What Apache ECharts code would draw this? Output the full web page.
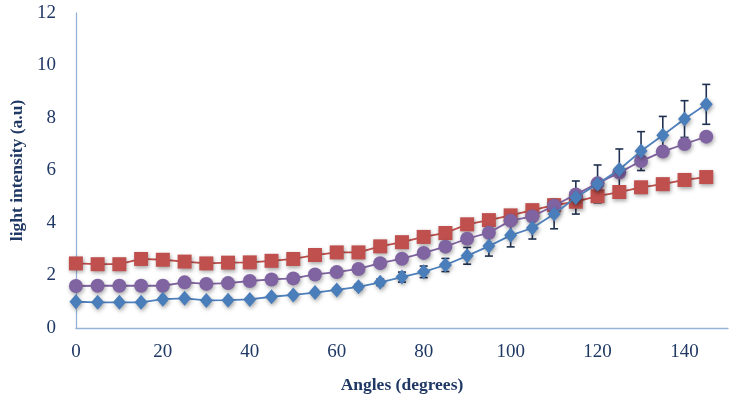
<!DOCTYPE html>
<html>
<head>
<meta charset="utf-8">
<script src="https://cdn.jsdelivr.net/npm/echarts@6/dist/echarts.min.js"></script>
<style>html,body{margin:0;padding:0;background:#fff;}#c{width:734px;height:400px;}</style>
</head>
<body>
<div id="c"></div>
<script>
var angles = [0,5,10,15,20,25,30,35,40,45,50,55,60,65,70,75,80,85,90,95,100,105,110,115,120,125,130,135,140,145];
var blueValues = [1.00,0.98,0.98,0.98,1.10,1.13,1.05,1.06,1.09,1.19,1.26,1.35,1.45,1.57,1.74,1.94,2.14,2.40,2.75,3.12,3.53,3.81,4.34,4.97,5.49,6.04,6.74,7.34,7.96,8.52];
var blueErrors = [0.05,0.05,0.05,0.05,0.05,0.05,0.05,0.05,0.05,0.06,0.06,0.07,0.08,0.10,0.12,0.19,0.22,0.25,0.32,0.38,0.44,0.42,0.56,0.63,0.72,0.78,0.74,0.72,0.70,0.76];
var redValues = [2.46,2.43,2.43,2.63,2.60,2.53,2.46,2.49,2.50,2.56,2.63,2.78,2.88,2.88,3.11,3.27,3.47,3.62,3.95,4.11,4.29,4.49,4.68,4.81,5.02,5.18,5.36,5.48,5.64,5.75];
var purpleValues = [1.60,1.61,1.61,1.61,1.61,1.74,1.68,1.71,1.79,1.85,1.89,2.04,2.13,2.25,2.47,2.64,2.86,3.10,3.40,3.63,4.09,4.25,4.66,5.09,5.51,5.92,6.36,6.72,7.01,7.29];
var xTicks = [0,20,40,60,80,100,120,140];
var yTicks = [0,2,4,6,8,10,12];

function pairs(vals){ return angles.map(function(a,i){ return [a, vals[i]]; }); }
var errData = angles.map(function(a,i){ return [a, blueValues[i]-blueErrors[i], blueValues[i]+blueErrors[i]]; });

var textColor = '#1F3864';
var axisColor = '#95B3D7';
var shadow = {shadowBlur:4, shadowColor:'rgba(0,0,0,0.35)', shadowOffsetX:1, shadowOffsetY:2};

var chart = echarts.init(document.getElementById('c'), null, {renderer:'canvas'});
chart.setOption({
  animation:false,
  backgroundColor:'#ffffff',
  grid:{left:70, right:6, top:13, bottom:72, containLabel:false},
  xAxis:{
    type:'value', min:0, max:150, interval:20,
    name:'Angles (degrees)', nameLocation:'middle', nameGap:48,
    nameTextStyle:{fontFamily:'Liberation Serif', fontWeight:'bold', fontSize:17.5, color:textColor},
    axisLine:{show:true, lineStyle:{color:axisColor, width:1.3}},
    axisTick:{show:false},
    splitLine:{show:false},
    axisLabel:{margin:15, fontFamily:'Liberation Serif', fontSize:19, color:textColor,
      formatter:function(v){ return xTicks.indexOf(v) >= 0 ? String(v) : ''; }}
  },
  yAxis:{
    type:'value', min:0, max:12, interval:2,
    name:'light intensity (a.u)', nameLocation:'middle', nameGap:45, nameRotate:90,
    nameTextStyle:{fontFamily:'Liberation Serif', fontWeight:'bold', fontSize:17.5, color:textColor},
    axisLine:{show:true, lineStyle:{color:axisColor, width:1.3}},
    axisTick:{show:false},
    splitLine:{show:false},
    axisLabel:{margin:20, fontFamily:'Liberation Serif', fontSize:19, color:textColor,
      formatter:function(v){ return yTicks.indexOf(v) >= 0 ? String(v) : ''; }}
  },
  series:[
    {
      type:'custom', name:'err', z:1,
      data:errData,
      encode:{x:0, y:[1,2]},
      renderItem:function(params, api){
        var x = api.value(0);
        var lo = api.coord([x, api.value(1)]);
        var hi = api.coord([x, api.value(2)]);
        var hw = 4;
        var st = {stroke:'#1F3050', lineWidth:1.6};
        return {type:'group', children:[
          {type:'line', shape:{x1:lo[0], y1:lo[1], x2:hi[0], y2:hi[1]}, style:st},
          {type:'line', shape:{x1:lo[0]-hw, y1:lo[1], x2:lo[0]+hw, y2:lo[1]}, style:st},
          {type:'line', shape:{x1:hi[0]-hw, y1:hi[1], x2:hi[0]+hw, y2:hi[1]}, style:st}
        ]};
      }
    },
    {
      type:'line', name:'red', z:3,
      data:pairs(redValues),
      symbol:'rect', symbolSize:14,
      lineStyle:{color:'#C0504D', width:1.8},
      itemStyle:Object.assign({color:'#C0504D'}, shadow)
    },
    {
      type:'line', name:'purple', z:4,
      data:pairs(purpleValues),
      symbol:'circle', symbolSize:14,
      lineStyle:{color:'#8064A2', width:1.8},
      itemStyle:Object.assign({color:'#8064A2'}, shadow)
    },
    {
      type:'line', name:'blue', z:5,
      data:pairs(blueValues),
      symbol:'diamond', symbolSize:[13,15],
      lineStyle:{color:'#4F81BD', width:1.8},
      itemStyle:Object.assign({color:'#4A7EBB'}, shadow)
    }
  ]
});
</script>
</body>
</html>
